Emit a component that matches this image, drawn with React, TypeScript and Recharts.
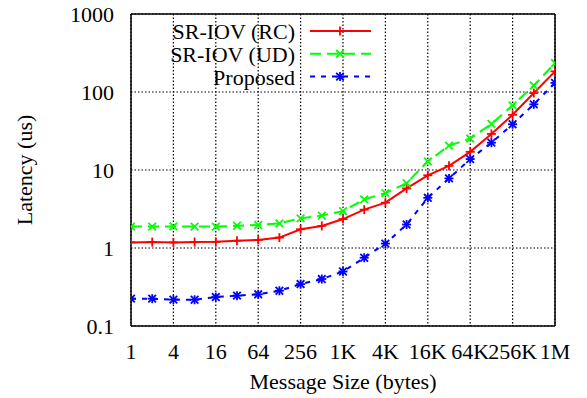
import React from 'react';
import { LineChart, Line, XAxis, YAxis, CartesianGrid, Legend } from 'recharts';

const sizes = [1, 2, 4, 8, 16, 32, 64, 128, 256, 512, 1024, 2048, 4096, 8192, 16384, 32768, 65536, 131072, 262144, 524288, 1048576];
const rcLatency = [1.18, 1.19, 1.18, 1.19, 1.2, 1.24, 1.27, 1.36, 1.74, 1.92, 2.35, 3.1, 3.81, 5.8, 8.55, 11.3, 17.1, 29, 51, 97, 184];
const udLatency = [1.88, 1.88, 1.89, 1.88, 1.88, 1.93, 1.97, 2.07, 2.4, 2.6, 2.97, 4.2, 5.05, 6.8, 12.9, 20.5, 25.3, 38.9, 67.4, 121, 235];
const proposedLatency = [0.224, 0.224, 0.218, 0.217, 0.235, 0.245, 0.255, 0.283, 0.345, 0.4, 0.5, 0.75, 1.14, 2.0, 4.4, 7.8, 13.8, 22.4, 38.6, 69.5, 131];

const xTicks = [1, 4, 16, 64, 256, 1024, 4096, 16384, 65536, 262144, 1048576];
const xTickLabels = ['1', '4', '16', '64', '256', '1K', '4K', '16K', '64K', '256K', '1M'];
const yTicks = [0.1, 1, 10, 100, 1000];
const yTickLabels = ['0.1', '1', '10', '100', '1000'];
const seriesNames = ['SR-IOV (RC)', 'SR-IOV (UD)', 'Proposed'];

const data = sizes.map((s, i) => ({ size: s, rc: rcLatency[i], ud: udLatency[i], proposed: proposedLatency[i] }));

const yMinorTicks: number[] = [];
[0.1, 1, 10, 100].forEach((d) => {
  for (let m = 1; m <= 9; m++) yMinorTicks.push(parseFloat((d * m).toPrecision(6)));
});
yMinorTicks.push(1000);

const FONT = "'Liberation Serif', 'Times New Roman', Times, 'DejaVu Serif', serif";

type MarkerKind = 'plus' | 'cross' | 'star';

function Marker({ cx, cy, color, kind }: { cx: number; cy: number; color: string; kind: MarkerKind }) {
  if (cx == null || cy == null || isNaN(cx) || isNaN(cy)) return <g />;
  const r = 4.5;
  const d = 3.8;
  const sw = 1.8;
  const plus = (
    <>
      <line x1={cx - r} x2={cx + r} y1={cy} y2={cy} stroke={color} strokeWidth={sw} />
      <line x1={cx} x2={cx} y1={cy - r} y2={cy + r} stroke={color} strokeWidth={sw} />
    </>
  );
  const cross = (
    <>
      <line x1={cx - d} x2={cx + d} y1={cy - d} y2={cy + d} stroke={color} strokeWidth={sw} />
      <line x1={cx - d} x2={cx + d} y1={cy + d} y2={cy - d} stroke={color} strokeWidth={sw} />
    </>
  );
  return (
    <g>
      {(kind === 'plus' || kind === 'star') && plus}
      {(kind === 'cross' || kind === 'star') && cross}
    </g>
  );
}

const series = [
  { key: 'rc', name: seriesNames[0], color: '#ff0000', dash: undefined as string | undefined, kind: 'plus' as MarkerKind },
  { key: 'ud', name: seriesNames[1], color: '#00ff00', dash: '11 6', kind: 'cross' as MarkerKind },
  { key: 'proposed', name: seriesNames[2], color: '#0000ff', dash: '5 6', kind: 'star' as MarkerKind },
];

const renderLegend = () => (
  <svg width={587} height={100} style={{ display: 'block' }}>
    {series.map((s, i) => {
      const cy = 31 + i * 22.8;
      return (
        <g key={s.key}>
          <text x={295} y={cy + 8} textAnchor="end" style={{ fontFamily: FONT, fontSize: 22 }} fill="#000">
            {s.name}
          </text>
          <line x1={310} x2={371} y1={cy} y2={cy} stroke={s.color} strokeWidth={2} strokeDasharray={s.dash} />
          <Marker cx={340} cy={cy} color={s.color} kind={s.kind} />
        </g>
      );
    })}
  </svg>
);

const YLabel = (props: any) => {
  const vb = props.viewBox || {};
  const cy = (vb.y || 0) + (vb.height || 0) / 2;
  const cx = 24;
  return (
    <text
      x={cx}
      y={cy}
      transform={`rotate(-90, ${cx}, ${cy})`}
      textAnchor="middle"
      dominantBaseline="central"
      style={{ fontFamily: FONT, fontSize: 22 }}
      fill="#000"
    >
      Latency (us)
    </text>
  );
};

const tickStyle = { fill: '#000', fontSize: 22, fontFamily: FONT, style: { fontFamily: FONT } };

export default function App() {
  return (
    <div style={{ position: 'absolute', left: 0, top: 0, background: '#fff', fontFamily: FONT }}>
      <LineChart
        width={587}
        height={398}
        data={data}
        margin={{ top: 14, right: 32, bottom: 0, left: 0 }}
        style={{ fontFamily: FONT }}
      >
        <CartesianGrid stroke="#000" strokeDasharray="1.5 2" strokeWidth={1.2} />
        <XAxis
          dataKey="size"
          type="number"
          scale="log"
          domain={[1, 1048576]}
          allowDataOverflow
          ticks={xTicks}
          interval={0}
          tickFormatter={(v: number) => xTickLabels[xTicks.indexOf(v)] ?? String(v)}
          tickLine={false}
          tickSize={6}
          tickMargin={11}
          height={72}
          axisLine={{ stroke: '#000', strokeWidth: 1.5 }}
          tick={tickStyle}
          label={{ value: 'Message Size (bytes)', position: 'insideBottom', offset: 9, fill: '#000', fontSize: 22, style: { fontFamily: FONT } }}
        />
        <XAxis
          xAxisId="xb"
          orientation="bottom"
          mirror
          type="number"
          scale="log"
          domain={[1, 1048576]}
          allowDataOverflow
          ticks={xTicks}
          interval={0}
          tick={false}
          tickLine={{ stroke: '#000', strokeWidth: 1.5 }}
          tickSize={7}
          axisLine={false}
        />
        <XAxis
          xAxisId="xt"
          orientation="top"
          mirror
          type="number"
          scale="log"
          domain={[1, 1048576]}
          allowDataOverflow
          ticks={xTicks}
          interval={0}
          tick={false}
          tickLine={{ stroke: '#000', strokeWidth: 1.5 }}
          tickSize={7}
          axisLine={{ stroke: '#000', strokeWidth: 1.5 }}
        />
        <YAxis
          type="number"
          scale="log"
          domain={[0.1, 1000]}
          allowDataOverflow
          ticks={yTicks}
          interval={0}
          tickFormatter={(v: number) => yTickLabels[yTicks.indexOf(v)] ?? String(v)}
          tickLine={false}
          tickSize={6}
          tickMargin={11}
          width={131}
          axisLine={{ stroke: '#000', strokeWidth: 1.5 }}
          tick={tickStyle}
          label={<YLabel />}
        />
        <YAxis
          yAxisId="yl"
          orientation="left"
          mirror
          type="number"
          scale="log"
          domain={[0.1, 1000]}
          allowDataOverflow
          ticks={yMinorTicks}
          interval={0}
          tick={false}
          tickLine={{ stroke: '#000', strokeWidth: 1.2 }}
          tickSize={4}
          axisLine={false}
        />
        <YAxis
          yAxisId="yr"
          orientation="right"
          mirror
          type="number"
          scale="log"
          domain={[0.1, 1000]}
          allowDataOverflow
          ticks={yMinorTicks}
          interval={0}
          tick={false}
          tickLine={{ stroke: '#000', strokeWidth: 1.2 }}
          tickSize={4}
          axisLine={{ stroke: '#000', strokeWidth: 1.5 }}
        />
        {series.map((s) => (
          <Line
            key={s.key}
            dataKey={s.key}
            name={s.name}
            type="linear"
            stroke={s.color}
            strokeWidth={2}
            strokeDasharray={s.dash}
            isAnimationActive={false}
            dot={(p: any) => <Marker key={`${s.key}-${p.index}`} cx={p.cx} cy={p.cy} color={s.color} kind={s.kind} />}
            activeDot={false}
          />
        ))}
        <Legend
          layout="vertical"
          align="center"
          verticalAlign="middle"
          content={renderLegend}
          wrapperStyle={{ position: 'absolute', left: 0, top: 0, width: 587, height: 100, pointerEvents: 'none' }}
        />
      </LineChart>
    </div>
  );
}
